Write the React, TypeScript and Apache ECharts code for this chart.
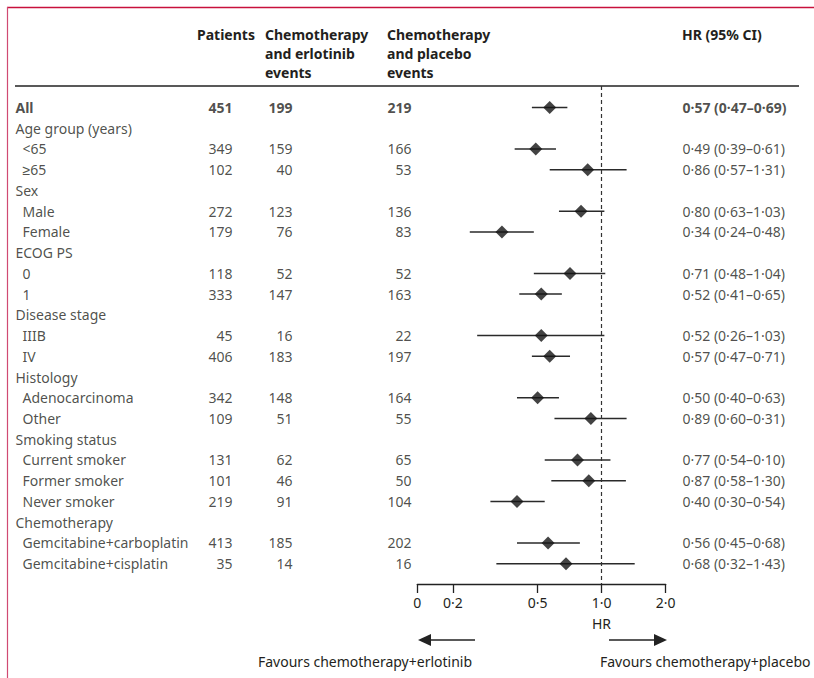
import React, { useEffect, useRef } from 'react';
import * as echarts from 'echarts';

// ---------- data ----------
const rowLabels = [
  'All', 'Age group (years)', '<65', '≥65', 'Sex', 'Male', 'Female', 'ECOG PS', '0', '1',
  'Disease stage', 'IIIB', 'IV', 'Histology', 'Adenocarcinoma', 'Other', 'Smoking status',
  'Current smoker', 'Former smoker', 'Never smoker', 'Chemotherapy', 'Gemcitabine+carboplatin',
  'Gemcitabine+cisplatin',
];
const patients = [451, null, 349, 102, null, 272, 179, null, 118, 333, null, 45, 406, null, 342, 109, null, 131, 101, 219, null, 413, 35];
const erlotinibEvents = [199, null, 159, 40, null, 123, 76, null, 52, 147, null, 16, 183, null, 148, 51, null, 62, 46, 91, null, 185, 14];
const placeboEvents = [219, null, 166, 53, null, 136, 83, null, 52, 163, null, 22, 197, null, 164, 55, null, 65, 50, 104, null, 202, 16];
const hr = [0.57, null, 0.49, 0.86, null, 0.80, 0.34, null, 0.71, 0.52, null, 0.52, 0.57, null, 0.50, 0.89, null, 0.77, 0.87, 0.40, null, 0.56, 0.68];
const ciLow = [0.47, null, 0.39, 0.57, null, 0.63, 0.24, null, 0.48, 0.41, null, 0.26, 0.47, null, 0.40, 0.60, null, 0.54, 0.58, 0.30, null, 0.40, 0.32];
const ciHigh = [0.69, null, 0.61, 1.31, null, 1.03, 0.48, null, 1.04, 0.65, null, 1.03, 0.71, null, 0.63, 1.31, null, 1.10, 1.30, 0.54, null, 0.79, 1.43];
const hrText = [
  '0·57 (0·47–0·69)', '', '0·49 (0·39–0·61)', '0·86 (0·57–1·31)', '', '0·80 (0·63–1·03)',
  '0·34 (0·24–0·48)', '', '0·71 (0·48–1·04)', '0·52 (0·41–0·65)', '', '0·52 (0·26–1·03)',
  '0·57 (0·47–0·71)', '', '0·50 (0·40–0·63)', '0·89 (0·60–0·31)', '', '0·77 (0·54–0·10)',
  '0·87 (0·58–1·30)', '0·40 (0·30–0·54)', '', '0·56 (0·45–0·68)', '0·68 (0·32–1·43)',
];
const tickValuesHR = [0.136, 0.2, 0.5, 1, 2];
const tickLabels = ['0', '0·2', '0·5', '1·0', '2·0'];
const headers = {
  patients: 'Patients',
  erlotinib: 'Chemotherapy\nand erlotinib\nevents',
  placebo: 'Chemotherapy\nand placebo\nevents',
  hr: 'HR (95% CI)',
};
const axisName = 'HR';
const favoursLeft = 'Favours chemotherapy+erlotinib';
const favoursRight = 'Favours chemotherapy+placebo';

// ---------- layout ----------
const FONT = '"Noto Sans", sans-serif';
const TXT = '#231f20';
const FS = 14;

export default function App() {
  const ref = useRef<HTMLDivElement>(null);
  useEffect(() => {
    const chart = echarts.init(ref.current!, null, { renderer: 'svg' });
    const L2 = (v: number) => Math.log2(v);
    const tickVals = tickValuesHR.map(L2);
    const xMin = tickVals[0];
    const xMax = tickVals[tickVals.length - 1];

    const rowY0 = 107.5;
    const rowStep = 20.735;
    const gridTop = 86;
    const gridBottomPx = 584;
    const yMin = (gridTop - rowY0) / rowStep;
    const yMax = (gridBottomPx - rowY0) / rowStep;

    const ciData: any[] = [];
    const ptData: any[] = [];
    hr.forEach((h, i) => {
      if (h == null) return;
      ciData.push([L2(ciLow[i] as number), L2(ciHigh[i] as number), i]);
      ptData.push([L2(h), i]);
    });

    const textSeries = (x: number, vals: (string | number | null)[], pos: 'left' | 'right', indentFn?: (i: number) => number) => ({
      type: 'scatter',
      xAxisIndex: 1,
      yAxisIndex: 1,
      symbolSize: 1,
      itemStyle: { color: 'rgba(0,0,0,0)' },
      silent: true,
      data: vals
        .map((v, i) => ({ v, i }))
        .filter((d) => d.v !== null && d.v !== '')
        .map((d) => ({
          value: [x + (indentFn ? indentFn(d.i) : 0), d.i],
          name: String(d.v),
          label: { fontWeight: d.i === 0 ? 'bold' : 'normal' },
        })),
      label: {
        show: true,
        position: pos,
        distance: 0,
        formatter: (p: any) => p.name,
        fontFamily: FONT,
        fontSize: FS,
        color: TXT,
      },
    });

    const headerText = (x: number, text: string) => ({
      type: 'text',
      x,
      y: 24.5,
      style: {
        text,
        fontFamily: FONT,
        fontSize: FS,
        fontWeight: 'bold',
        fill: TXT,
        lineHeight: 19,
        verticalAlign: 'top',
        align: 'left',
      },
    });

    const option: any = {
      animation: false,
      backgroundColor: '#fff',
      textStyle: { fontFamily: FONT },
      grid: [
        { left: 417.3, right: 814 - 665.7, top: gridTop, bottom: 678 - gridBottomPx },
        { left: 0, right: 0, top: gridTop, bottom: 678 - gridBottomPx },
      ],
      xAxis: [
        {
          type: 'value',
          gridIndex: 0,
          min: xMin,
          max: xMax,
          splitLine: { show: false },
          axisLine: { show: true, onZero: false, lineStyle: { color: '#222', width: 1.3 } },
          axisTick: { show: true, length: 9, customValues: tickVals, lineStyle: { color: '#222', width: 1.3 } },
          axisLabel: {
            show: true,
            customValues: tickVals,
            margin: 11,
            fontFamily: FONT,
            fontSize: FS,
            color: TXT,
            formatter: (v: number) => {
              let best = 0;
              tickVals.forEach((t, k) => {
                if (Math.abs(t - v) < Math.abs(tickVals[best] - v)) best = k;
              });
              return tickLabels[best];
            },
          },
        },
        { type: 'value', gridIndex: 1, min: 0, max: 814, show: false },
      ],
      yAxis: [
        { type: 'value', gridIndex: 0, min: yMin, max: yMax, inverse: true, show: false },
        { type: 'value', gridIndex: 1, min: yMin, max: yMax, inverse: true, show: false },
      ],
      series: [
        {
          type: 'custom',
          xAxisIndex: 0,
          yAxisIndex: 0,
          encode: { x: [0, 1], y: 2 },
          data: ciData,
          z: 3,
          renderItem: (params: any, api: any) => {
            const p1 = api.coord([api.value(0), api.value(2)]);
            const p2 = api.coord([api.value(1), api.value(2)]);
            return {
              type: 'line',
              shape: { x1: p1[0], y1: p1[1], x2: p2[0], y2: p2[1] },
              style: { stroke: '#2a2a2a', lineWidth: 1.5 },
            };
          },
        },
        {
          type: 'scatter',
          xAxisIndex: 0,
          yAxisIndex: 0,
          symbol: 'diamond',
          symbolSize: [13, 13],
          itemStyle: { color: '#141414' },
          data: ptData,
          z: 4,
          markLine: {
            silent: true,
            symbol: 'none',
            label: { show: false },
            lineStyle: { type: [4, 3], color: '#333', width: 1.2 },
            data: [{ xAxis: 0 }],
          },
        },
        textSeries(15, rowLabels, 'right', (i) => (patients[i] == null || i === 0 ? 0 : 7)),
        textSeries(233, patients, 'left'),
        textSeries(293, erlotinibEvents, 'left'),
        textSeries(412, placeboEvents, 'left'),
        textSeries(682, hrText, 'right'),
      ],
      graphic: [
        { type: 'line', shape: { x1: 7, y1: 7.5, x2: 814, y2: 7.5 }, style: { stroke: '#c8103c', lineWidth: 1.5 } },
        { type: 'line', shape: { x1: 7.5, y1: 7, x2: 7.5, y2: 678 }, style: { stroke: '#d04a72', lineWidth: 1.2 } },
        { type: 'line', shape: { x1: 15, y1: 86, x2: 799, y2: 86 }, style: { stroke: '#222', lineWidth: 1.6 } },
        headerText(197, headers.patients),
        headerText(265, headers.erlotinib),
        headerText(387, headers.placebo),
        headerText(682, headers.hr),
        {
          type: 'text', x: 601.5, y: 623,
          style: { text: axisName, fontFamily: FONT, fontSize: FS, fill: TXT, align: 'center', verticalAlign: 'middle' },
        },
        { type: 'line', shape: { x1: 428, y1: 640, x2: 475, y2: 640 }, style: { stroke: '#222', lineWidth: 1.5 } },
        { type: 'polygon', shape: { points: [[418, 640], [431, 634], [431, 646]] }, style: { fill: '#222' } },
        { type: 'line', shape: { x1: 609, y1: 640, x2: 656, y2: 640 }, style: { stroke: '#222', lineWidth: 1.5 } },
        { type: 'polygon', shape: { points: [[667, 640], [654, 634], [654, 646]] }, style: { fill: '#222' } },
        {
          type: 'text', x: 258, y: 661,
          style: { text: favoursLeft, fontFamily: FONT, fontSize: FS, fill: TXT, align: 'left', verticalAlign: 'middle' },
        },
        {
          type: 'text', x: 600, y: 661,
          style: { text: favoursRight, fontFamily: FONT, fontSize: FS, fill: TXT, align: 'left', verticalAlign: 'middle' },
        },
      ],
    };
    chart.setOption(option);
    return () => chart.dispose();
  }, []);
  return (
    <div
      ref={ref}
      style={{ position: 'fixed', left: 0, top: 0, width: 814, height: 678, background: '#fff' }}
    />
  );
}
